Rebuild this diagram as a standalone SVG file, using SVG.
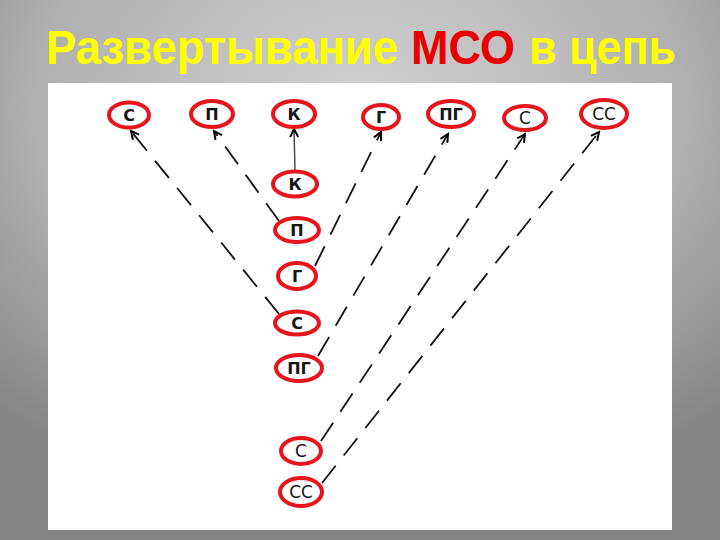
<svg xmlns="http://www.w3.org/2000/svg" width="720" height="540" viewBox="0 0 720 540">
<defs>
<radialGradient id="bg" cx="0.5" cy="0.2" r="0.75">
<stop offset="0" stop-color="#d2d2d2"/>
<stop offset="0.6" stop-color="#b0b0b0"/>
<stop offset="1" stop-color="#858585"/>
</radialGradient>
<marker id="arr" markerWidth="12" markerHeight="12" refX="9" refY="5" orient="auto" markerUnits="userSpaceOnUse">
<path d="M1,1 L9,5 L1,9" fill="none" stroke="#000" stroke-width="2"/>
</marker>
<style>
.n ellipse{fill:#fff;stroke:#e8141c;stroke-width:4}
.n text{font-family:"DejaVu Sans","Liberation Sans",sans-serif;font-size:16px;font-weight:bold;fill:#151515;text-anchor:middle}
.n text.r{font-weight:normal;font-size:17px}
.c path{fill:none;stroke:#111;stroke-width:1.8;marker-end:url(#arr)}
.c path.d{stroke-dasharray:22 13}
.c path.s{stroke:#444;stroke-width:1.4}
.t{font-family:"Liberation Sans",Arial,sans-serif;font-weight:bold;font-size:48px}
</style>
</defs>
<rect width="720" height="540" fill="url(#bg)"/>
<g id="title">
<text class="t" x="46" y="64" fill="#ffff00" textLength="352" lengthAdjust="spacingAndGlyphs">Развертывание</text>
<text class="t" x="411" y="64" fill="#e80000" textLength="104" lengthAdjust="spacingAndGlyphs">МСО</text>
<text class="t" x="529" y="64" fill="#ffff00" textLength="147" lengthAdjust="spacingAndGlyphs">в цепь</text>
</g>
<rect x="48" y="83" width="624" height="447" fill="#fff"/>
<g class="c">
<path class="s" d="M295,170 L294,129"/>
<path class="d" d="M279,221 L214,131"/>
<path class="d" d="M279,314 L131,131"/>
<path class="d" d="M315,266 L381,132"/>
<path class="d" d="M318,356 L448,134"/>
<path class="d" d="M321,441 L525,134"/>
<path class="d" d="M322,483 L599,132"/>
</g>
<g class="n" id="top-s"><ellipse cx="129" cy="115" rx="20" ry="12.5"/><text x="129" y="121">С</text></g>
<g class="n" id="top-p"><ellipse cx="212" cy="114" rx="21" ry="13"/><text x="212" y="120">П</text></g>
<g class="n" id="top-k"><ellipse cx="294" cy="114" rx="21" ry="13"/><text x="294" y="120">К</text></g>
<g class="n" id="top-g"><ellipse cx="381" cy="117" rx="18" ry="12"/><text x="381" y="123">Г</text></g>
<g class="n" id="top-pg"><ellipse cx="451" cy="114" rx="23" ry="13"/><text x="451" y="120">ПГ</text></g>
<g class="n" id="top-s2"><ellipse cx="525" cy="118" rx="21" ry="12"/><text class="r" x="525" y="124">С</text></g>
<g class="n" id="top-ss"><ellipse cx="604" cy="114" rx="23" ry="14"/><text class="r" x="604" y="120">СС</text></g>
<g class="n" id="mid-k"><ellipse cx="295" cy="184" rx="22" ry="12.5"/><text x="295" y="190">К</text></g>
<g class="n" id="mid-p"><ellipse cx="297" cy="230" rx="22" ry="12"/><text x="297" y="236">П</text></g>
<g class="n" id="mid-g"><ellipse cx="297" cy="276" rx="19" ry="13"/><text x="297" y="282">Г</text></g>
<g class="n" id="mid-s"><ellipse cx="297" cy="323" rx="22" ry="11.5"/><text x="297" y="329">С</text></g>
<g class="n" id="mid-pg"><ellipse cx="299" cy="368" rx="23" ry="13"/><text x="299" y="374">ПГ</text></g>
<g class="n" id="bot-s"><ellipse cx="301" cy="451" rx="20" ry="13"/><text class="r" x="301" y="457">С</text></g>
<g class="n" id="bot-ss"><ellipse cx="301" cy="492" rx="21" ry="14"/><text class="r" x="301" y="498">СС</text></g>
</svg>
